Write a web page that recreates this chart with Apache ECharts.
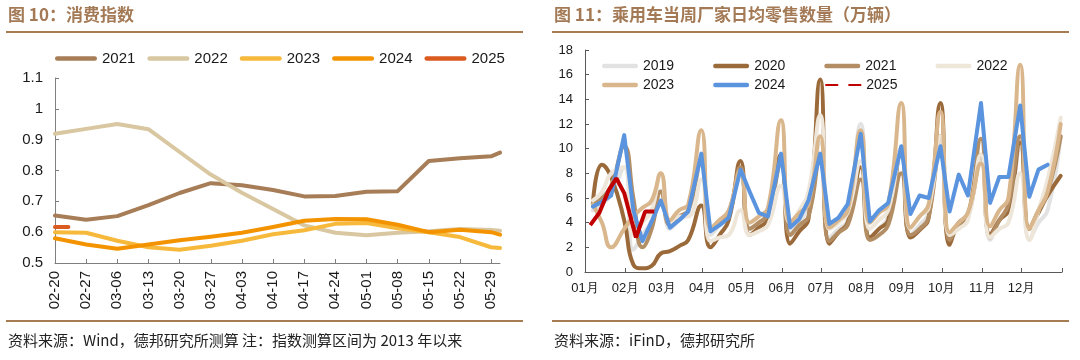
<!DOCTYPE html>
<html><head><meta charset="utf-8">
<script src="https://cdn.jsdelivr.net/npm/echarts@6/dist/echarts.min.js"></script>
<style>html,body{margin:0;padding:0;background:#fff}#c{width:1080px;height:360px}</style>
</head><body><div id="c"></div>
<script>
// ---------- Left chart: 消费指数 ----------
const leftDates = ['02-20','02-27','03-06','03-13','03-20','03-27','04-03','04-10','04-17','04-24','05-01','05-08','05-15','05-22','05-29','05-31'];
const idx2021 = [0.654,0.640,0.652,0.688,0.727,0.759,0.752,0.737,0.716,0.717,0.731,0.733,0.831,0.840,0.846,0.858];
const idx2022 = [0.919,0.935,0.951,0.934,0.860,0.787,0.728,0.675,0.622,0.598,0.590,0.598,0.603,0.610,0.607,0.605];
const idx2023 = [0.600,0.598,0.572,0.551,0.543,0.556,0.572,0.593,0.606,0.627,0.630,0.613,0.600,0.584,0.551,0.549];
const idx2024 = [0.580,0.560,0.546,0.560,0.574,0.585,0.598,0.617,0.637,0.643,0.642,0.624,0.600,0.608,0.600,0.592];
const idx2025Dates = ['02-20','02-23'];
const idx2025 = [0.617,0.617];

// ---------- Right chart: 乘用车当周厂家日均零售数量（万辆） ----------
const weekDates = ['01-07','01-14','01-21','01-31','02-07','02-14','02-21','02-28','03-07','03-14','03-21','03-31',
 '04-07','04-14','04-21','04-30','05-07','05-14','05-21','05-31','06-07','06-14','06-21','06-30',
 '07-07','07-14','07-21','07-31','08-07','08-14','08-21','08-31','09-07','09-14','09-21','09-30',
 '10-07','10-14','10-21','10-31','11-07','11-14','11-21','11-30','12-07','12-14','12-21','12-31'];
const s2019 = [5.0,5.5,6.3,8.5, 1.8,3.0,4.2,6.6, 3.5,4.2,4.8,8.8, 3.0,3.8,4.5,8.0, 3.5,4.0,4.8,8.6, 3.2,4.0,5.5,10.5,
 2.8,3.5,4.2,12.0, 2.8,3.5,4.5,9.5, 3.0,3.8,4.8,10.5, 2.8,4.0,4.8,9.0, 2.6,4.2,5.2,10.0, 2.6,4.0,5.0,11.0];
const s2020 = [5.5,8.7,7.7,4.2, 0.6,0.3,0.5,1.5, 1.7,2.1,2.6,5.4, 2.0,3.0,4.2,9.0, 3.0,3.6,4.3,9.5, 2.3,3.3,4.3,15.6,
 2.3,3.2,4.0,8.5, 2.8,3.5,4.2,10.0, 2.8,3.4,4.4,13.7, 2.2,4.0,4.5,9.5, 3.0,4.2,5.0,10.5, 3.5,4.8,6.2,7.8];
const s2021 = [5.5,6.0,7.0,10.2, 6.0,2.0,3.5,6.5, 3.8,4.5,5.0,9.0, 3.5,4.2,4.8,8.5, 3.5,4.0,4.7,8.8, 3.0,3.8,4.5,9.5,
 2.5,3.2,3.8,7.5, 2.6,3.0,3.8,8.0, 3.0,3.5,4.5,11.0, 2.6,3.8,4.5,10.8, 2.8,4.2,5.5,11.0, 3.5,5.0,6.5,11.0];
const s2022 = [5.8,6.5,8.0,8.5, 3.0,4.0,5.0,8.0, 4.0,4.5,4.5,7.5, 2.5,2.8,3.0,5.0, 3.0,3.3,3.8,7.0, 4.0,5.0,6.5,12.7,
 3.5,4.0,4.8,9.0, 3.5,4.2,5.0,10.0, 3.5,4.5,5.2,11.0, 3.0,3.5,4.2,9.5, 2.8,3.5,4.0,8.0, 2.6,5.0,7.5,12.5];
const s2023 = [5.5,4.0,2.0,3.5, 4.5,5.2,5.8,8.0, 4.2,5.0,5.5,11.5, 3.5,4.2,5.0,8.2, 4.0,4.5,5.2,12.3, 4.0,4.8,5.5,11.0,
 3.6,4.2,5.0,11.5, 4.0,4.8,5.5,13.7, 3.6,4.5,5.5,13.0, 3.2,4.0,4.8,8.8, 3.7,5.0,6.0,16.8, 3.5,5.0,6.5,12.0];
const s2024 = [5.3,5.7,6.2,11.1, 5.0,2.5,4.1,5.8, 3.6,4.2,4.9,9.6, 3.3,3.8,4.4,8.3, 6.5,4.8,4.5,9.6, 3.6,4.3,5.8,9.6,
 3.9,4.4,5.5,11.2, 4.1,5.0,5.6,10.2, 4.7,6.2,6.0,10.2, 4.9,7.9,6.2,13.7, 5.6,7.7,7.7,13.5, 6.1,8.3,8.7,null];
const dates2025 = ['01-05','01-12','01-19','01-25','01-31','02-09','02-16','02-23'];
const s2025 = [3.8,4.8,6.6,7.6,6.4,2.8,4.9,4.9];

// ---------- axis categories (daily) ----------
const monthLen = [31,28,31,30,31,30,31,31,30,31,30,31];
function pad(n){return (n<10?'0':'')+n;}
const leftCats = [];
for (let m=2;m<=5;m++){ for(let d=(m===2?20:1); d<=monthLen[m-1]; d++) leftCats.push(pad(m)+'-'+pad(d)); }
const rightCats = [];
for (let m=1;m<=12;m++){ for(let d=1; d<=monthLen[m-1]; d++) rightCats.push(pad(m)+'-'+pad(d)); }
rightCats.push('end');

function pairs(dates, vals){ return dates.map((d,i)=>[d, vals[i]]).filter(p=>p[1]!=null); }

const FONT = '"Liberation Sans", Arial, sans-serif';
const CJK = '"Noto Sans CJK SC", sans-serif';
const TXT = '#1a1a1a';
const RULE = '#A67C52';
const BAR_L = 'path://M2,0 L40,0 A2,2 0 0 1 40,4.6 L2,4.6 A2,2 0 0 1 2,0 Z';
const BAR_R = 'path://M2,0 L34,0 A2,2 0 0 1 34,4.4 L2,4.4 A2,2 0 0 1 2,0 Z';

function leftLine(name, dates, vals, color){
  return {name, type:'line', xAxisIndex:0, yAxisIndex:0, data:pairs(dates, vals), symbol:'none',
    lineStyle:{width:4, color, cap:'round', join:'round'}, itemStyle:{color}, z:2};
}
function rightLine(name, vals, color, smooth){
  return {name, type:'line', xAxisIndex:1, yAxisIndex:1, data:pairs(weekDates, vals), symbol:'none',
    smooth: smooth, lineStyle:{width:4, color, cap:'round', join:'round'}, itemStyle:{color}, z:2};
}

const chart = echarts.init(document.getElementById('c'), null, {renderer:'canvas', width:1080, height:360});
const option = {
  animation:false,
  backgroundColor:'#ffffff',
  textStyle:{fontFamily:FONT},
  graphic:[
    {type:'text', x:8, y:15, style:{text:'图 10：消费指数', fontSize:17, fontWeight:'bold', fontFamily:CJK, fill:'#A37A55', verticalAlign:'middle'}},
    {type:'text', x:554, y:15, style:{text:'图 11：乘用车当周厂家日均零售数量（万辆）', fontSize:17, fontWeight:'bold', fontFamily:CJK, fill:'#A37A55', verticalAlign:'middle'}},
    {type:'line', shape:{x1:6,y1:32,x2:523,y2:32}, style:{stroke:RULE, lineWidth:2}},
    {type:'line', shape:{x1:552,y1:32,x2:1069,y2:32}, style:{stroke:RULE, lineWidth:2}},
    {type:'line', shape:{x1:6,y1:321,x2:523,y2:321}, style:{stroke:RULE, lineWidth:2}},
    {type:'line', shape:{x1:552,y1:321,x2:1069,y2:321}, style:{stroke:RULE, lineWidth:2}},
    {type:'text', x:8, y:340, style:{text:'资料来源：Wind，德邦研究所测算 注：指数测算区间为 2013 年以来', fontSize:15, fontFamily:CJK, fill:'#222', verticalAlign:'middle'}},
    {type:'text', x:554, y:340, style:{text:'资料来源：iFinD，德邦研究所', fontSize:15, fontFamily:CJK, fill:'#222', verticalAlign:'middle'}}
  ],
  legend:[
    {data:['2021','2022','2023','2024','2025'], icon:BAR_L, left:50, top:46, itemWidth:42, itemHeight:14, itemGap:12,
     textStyle:{fontSize:15, color:TXT, fontFamily:FONT}},
    {data:[{name:'R2019',icon:BAR_R},{name:'R2020',icon:BAR_R},{name:'R2021',icon:BAR_R},{name:'R2022',icon:BAR_R}],
     left:597, top:54, itemWidth:36, itemHeight:14, itemGap:39,
     formatter:n=>n.slice(1), textStyle:{fontSize:14, color:TXT, fontFamily:FONT}},
    {data:[{name:'R2023',icon:BAR_R},{name:'R2024',icon:BAR_R},{name:'R2025'}],
     left:597, top:73, itemWidth:36, itemHeight:14, itemGap:39,
     formatter:n=>n.slice(1), textStyle:{fontSize:14, color:TXT, fontFamily:FONT}}
  ],
  grid:[
    {left:55, top:78, width:445, height:185, containLabel:false},
    {left:585, top:50, width:477, height:222, containLabel:false}
  ],
  xAxis:[
    {gridIndex:0, type:'category', data:leftCats, boundaryGap:false,
     axisLine:{lineStyle:{color:'#7f7f7f', width:1}},
     axisTick:{inside:true, length:4, interval:(i)=>i%7===0, lineStyle:{color:'#7f7f7f'}},
     axisLabel:{interval:(i)=>i%7===0, rotate:90, fontSize:15, color:TXT, margin:8, fontFamily:FONT},
     splitLine:{show:false}},
    {gridIndex:1, type:'category', data:rightCats, boundaryGap:false,
     axisLine:{lineStyle:{color:'#595959', width:1}},
     axisTick:{inside:true, length:4, interval:(i,v)=> v==='end' || v.slice(3)==='01', lineStyle:{color:'#595959'}},
     axisLabel:{interval:(i,v)=> v!=='end' && v.slice(3)==='01', formatter:(v)=>v.slice(0,2)+'月', fontSize:13, color:TXT, margin:10, fontFamily:FONT},
     splitLine:{show:false}}
  ],
  yAxis:[
    {gridIndex:0, type:'value', min:0.5, max:1.1, interval:0.1,
     axisLine:{show:true, lineStyle:{color:'#7f7f7f'}},
     axisTick:{show:true, inside:true, length:4, lineStyle:{color:'#7f7f7f'}},
     axisLabel:{fontSize:15, color:TXT, margin:12, formatter:v=>String(+v.toFixed(2)), fontFamily:FONT},
     splitLine:{show:false}},
    {gridIndex:1, type:'value', min:0, max:18, interval:2,
     axisLine:{show:true, lineStyle:{color:'#595959'}},
     axisTick:{show:true, inside:true, length:4, lineStyle:{color:'#595959'}},
     axisLabel:{fontSize:13, color:TXT, margin:12, fontFamily:FONT},
     splitLine:{show:false}}
  ],
  series:[
    leftLine('2021', leftDates, idx2021, '#A67D56'),
    leftLine('2022', leftDates, idx2022, '#D8C7A0'),
    leftLine('2023', leftDates, idx2023, '#F6B93B'),
    leftLine('2024', leftDates, idx2024, '#F49300'),
    leftLine('2025', idx2025Dates, idx2025, '#DA5A1F'),
    rightLine('R2019', s2019, '#E2E2E2', 0.5),
    rightLine('R2020', s2020, '#9B6A3B', 0.5),
    rightLine('R2021', s2021, '#B38D63', 0.5),
    rightLine('R2022', s2022, '#EFE6DA', 0.5),
    rightLine('R2023', s2023, '#D9B68C', 0.5),
    rightLine('R2024', s2024, '#5B94DE', false),
    {name:'R2025', type:'line', xAxisIndex:1, yAxisIndex:1, data:pairs(dates2025, s2025),
     symbol:'diamond', symbolSize:6, showSymbol:true,
     lineStyle:{width:4, color:'#C00000'}, itemStyle:{color:'#ffffff', borderColor:'#C00000', borderWidth:0}, z:5}
  ]
};
chart.setOption(option);
</script></body></html>
